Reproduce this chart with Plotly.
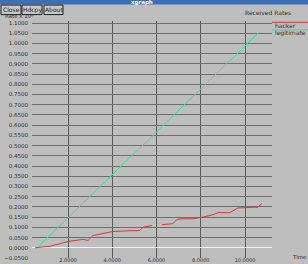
import plotly.graph_objects as go

# ---- data ----
legit_t = [0.60, 1.10, 1.60, 2.10, 2.60, 3.10, 3.60, 4.10, 4.60, 5.10, 5.60,
           6.10, 6.60, 7.10, 7.60, 8.10, 8.60, 9.10, 9.60, 10.10, 10.58]
legit_v = [0.000, 0.053, 0.103, 0.158, 0.209, 0.263, 0.314, 0.369, 0.420, 0.474, 0.524,
           0.579, 0.629, 0.684, 0.735, 0.789, 0.840, 0.894, 0.945, 0.999, 1.050]

hacker_t = [0.51, 1.19, 1.64, 2.00, 2.68, 2.90, 3.13, 4.03, 5.25, 5.39, 5.79, None,
            6.24, 6.74, 6.92, 7.15, 7.64, 8.10, 8.55, 8.77, 9.31, 9.68, 10.58, 10.76]
hacker_v = [0.000, 0.008, 0.020, 0.031, 0.041, 0.036, 0.060, 0.080, 0.085, 0.101, 0.109, None,
            0.113, 0.118, 0.139, 0.142, 0.142, 0.150, 0.162, 0.172, 0.172, 0.195, 0.199, 0.216]

x_ticks = [2, 4, 6, 8, 10]
y_ticks = [round(-0.05 + 0.05 * i, 2) for i in range(24)]
series_names = ["hacker", "legitimate"]
series_colors = ["#d43c3c", "#3fdca0"]

W, H = 308, 264
L, R, T, B = 32, 272, 21.4, 258
BG = "#bebebe"

def px(xp):
    return (xp - L) / (R - L)

def py(yp):
    return (B - yp) / (B - T)

fig = go.Figure()
fig.add_trace(go.Scatter(x=legit_t, y=legit_v, mode="lines", name=series_names[1],
                         line=dict(color=series_colors[1], width=1)))
fig.add_trace(go.Scatter(x=hacker_t, y=hacker_v, mode="lines", name=series_names[0],
                         line=dict(color=series_colors[0], width=1), connectgaps=False))

shapes = []
annotations = []
# title bar
shapes.append(dict(type="rect", xref="paper", yref="paper", x0=px(0), x1=px(W),
                   y0=py(0), y1=py(5), fillcolor="#3d6fb8", line=dict(width=0), layer="above"))
annotations.append(dict(text="<b>xgraph</b>", xref="paper", yref="paper", x=px(142), y=py(3),
                        showarrow=False, font=dict(size=5.5, color="white"), xanchor="center", yanchor="middle"))
# buttons
for label, x0, x1 in [("Close", 1, 21), ("Hdcpy", 22, 42), ("About", 44, 63)]:
    shapes.append(dict(type="rect", xref="paper", yref="paper", x0=px(x0), x1=px(x1),
                       y0=py(15), y1=py(5.5), fillcolor="#c8c8c8", line=dict(color="#202020", width=1)))
    annotations.append(dict(text=label, xref="paper", yref="paper", x=px((x0 + x1) / 2), y=py(10.3),
                            showarrow=False, font=dict(size=6, color="#202020"),
                            xanchor="center", yanchor="middle"))
annotations.append(dict(text="Rate x 10⁶", xref="paper", yref="paper", x=px(3), y=py(16.5),
                        showarrow=False, font=dict(size=5.5, color="#303030"),
                        xanchor="left", yanchor="middle"))
annotations.append(dict(text="Received Rates", xref="paper", yref="paper", x=px(268), y=py(13),
                        showarrow=False, font=dict(size=6, color="#303030"),
                        xanchor="center", yanchor="middle"))
# legend
for i, (name, col) in enumerate(zip(series_names, series_colors)):
    ly = 22.7 + 7.5 * i
    shapes.append(dict(type="line", xref="paper", yref="paper", x0=px(272), x1=px(308),
                       y0=py(ly), y1=py(ly), line=dict(color=col, width=1)))
    annotations.append(dict(text=name, xref="paper", yref="paper", x=px(273), y=py(ly + 3),
                            showarrow=False, font=dict(size=6, color="#303030"),
                            xanchor="left", yanchor="middle"))
annotations.append(dict(text="Time", xref="paper", yref="paper", x=px(299), y=py(257),
                        showarrow=False, font=dict(size=5.5, color="#303030"),
                        xanchor="center", yanchor="middle"))

fig.update_layout(
    width=W, height=H,
    margin=dict(l=L, r=W - R, t=T, b=H - B),
    paper_bgcolor=BG, plot_bgcolor=BG,
    showlegend=False,
    shapes=shapes, annotations=annotations,
    font=dict(family="DejaVu Sans", size=6, color="#303030"),
    xaxis=dict(range=[0.37, 11.22], tickvals=x_ticks, tickformat=".4f", automargin=False,
               showgrid=True, gridcolor="#5a5a5a", gridwidth=1, zeroline=False,
               showline=False, ticks="", ticklabelstandoff=-2,
               tickfont=dict(size=5, color="#303030")),
    yaxis=dict(range=[-0.05, 1.11], tickvals=y_ticks, tickformat=".4f", automargin=False,
               showgrid=True, gridcolor="#6e6e6e", gridwidth=1,
               zeroline=True, zerolinecolor="#f4f4f4", zerolinewidth=1,
               showline=False, ticks="", ticklabelstandoff=3,
               tickfont=dict(size=5.5, color="#303030")),
)

fig.write_html("out.html")
